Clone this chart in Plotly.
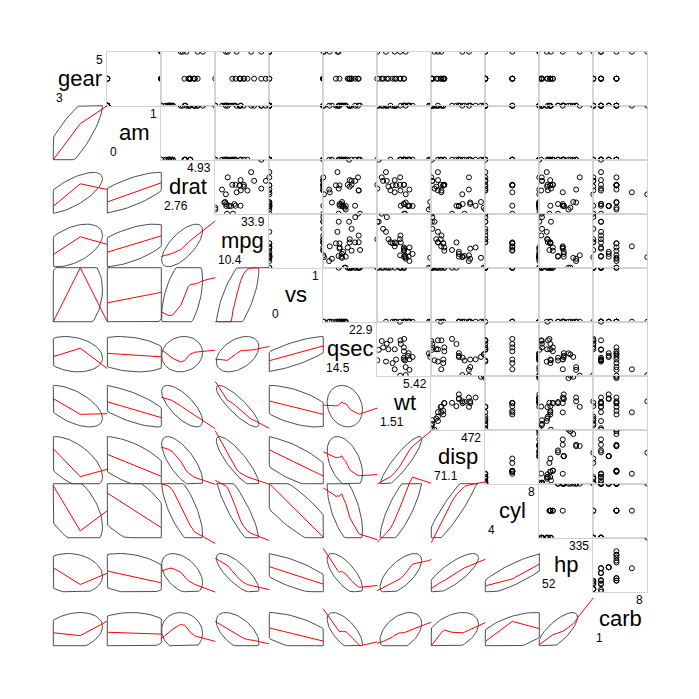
import numpy as np
import plotly.graph_objects as go

# mtcars data (32 cars)
mpg = [21.0, 21.0, 22.8, 21.4, 18.7, 18.1, 14.3, 24.4, 22.8, 19.2, 17.8, 16.4, 17.3, 15.2, 10.4, 10.4,
       14.7, 32.4, 30.4, 33.9, 21.5, 15.5, 15.2, 13.3, 19.2, 27.3, 26.0, 30.4, 15.8, 19.7, 15.0, 21.4]
cyl = [6, 6, 4, 6, 8, 6, 8, 4, 4, 6, 6, 8, 8, 8, 8, 8, 8, 4, 4, 4, 4, 8, 8, 8, 8, 4, 4, 4, 8, 6, 8, 4]
disp = [160, 160, 108, 258, 360, 225, 360, 146.7, 140.8, 167.6, 167.6, 275.8, 275.8, 275.8, 472, 460,
        440, 78.7, 75.7, 71.1, 120.1, 318, 304, 350, 400, 79, 120.3, 95.1, 351, 145, 301, 121]
hp = [110, 110, 93, 110, 175, 105, 245, 62, 95, 123, 123, 180, 180, 180, 205, 215,
      230, 66, 52, 65, 97, 150, 150, 245, 175, 66, 91, 113, 264, 175, 335, 109]
drat = [3.90, 3.90, 3.85, 3.08, 3.15, 2.76, 3.21, 3.69, 3.92, 3.92, 3.92, 3.07, 3.07, 3.07, 2.93, 3.00,
        3.23, 4.08, 4.93, 4.22, 3.70, 2.76, 3.15, 3.73, 3.08, 4.08, 4.43, 3.77, 4.22, 3.62, 3.54, 4.11]
wt = [2.620, 2.875, 2.320, 3.215, 3.440, 3.460, 3.570, 3.190, 3.150, 3.440, 3.440, 4.070, 3.730, 3.780,
      5.250, 5.424, 5.345, 2.200, 1.615, 1.835, 2.465, 3.520, 3.435, 3.840, 3.845, 1.935, 2.140, 1.513,
      3.170, 2.770, 3.570, 2.780]
qsec = [16.46, 17.02, 18.61, 19.44, 17.02, 20.22, 15.84, 20.00, 22.90, 18.30, 18.90, 17.40, 17.60, 18.00,
        17.98, 17.82, 17.42, 19.47, 18.52, 19.90, 20.01, 16.87, 17.30, 15.41, 17.05, 18.90, 16.70, 16.90,
        14.50, 15.50, 14.60, 18.60]
vs = [0, 0, 1, 1, 0, 1, 0, 1, 1, 1, 1, 0, 0, 0, 0, 0, 0, 1, 1, 1, 1, 0, 0, 0, 0, 1, 0, 1, 0, 0, 0, 1]
am = [1, 1, 1, 0, 0, 0, 0, 0, 0, 0, 0, 0, 0, 0, 0, 0, 0, 1, 1, 1, 0, 0, 0, 0, 0, 1, 1, 1, 1, 1, 1, 1]
gear = [4, 4, 4, 3, 3, 3, 3, 4, 4, 4, 4, 3, 3, 3, 3, 3, 3, 4, 4, 4, 3, 3, 3, 3, 3, 4, 5, 5, 5, 5, 5, 4]
carb = [4, 4, 1, 1, 2, 1, 4, 2, 2, 4, 4, 3, 3, 3, 4, 4, 4, 1, 2, 1, 1, 2, 2, 4, 2, 1, 2, 2, 4, 6, 8, 2]

var_names = ["gear", "am", "drat", "mpg", "vs", "qsec", "wt", "disp", "cyl", "hp", "carb"]
columns = {"gear": gear, "am": am, "drat": drat, "mpg": mpg, "vs": vs, "qsec": qsec,
           "wt": wt, "disp": disp, "cyl": cyl, "hp": hp, "carb": carb}

W = H = 699
LEFT, TOP, CELL = 53.3, 51.7, 54.0
PAD = 8.0
FONT = "Liberation Sans, Arial, sans-serif"


def r_lowess(x, y, f=2 / 3, nsteps=3):
    """Port of R's stats::lowess (clowess)."""
    x = np.asarray(x, float)
    y = np.asarray(y, float)
    o = np.argsort(x, kind="stable")
    x, y = x[o], y[o]
    n = len(x)
    delta = 0.01 * (x[-1] - x[0])
    ns = max(min(int(f * n + 1e-7), n), 2)
    X = np.concatenate([[0.0], x])
    Y = np.concatenate([[0.0], y])
    ys = np.zeros(n + 1)
    rw = np.ones(n + 1)

    def lowest(xs, nleft, nright, userw):
        rng = X[n] - X[1]
        h = max(xs - X[nleft], X[nright] - xs)
        h9, h1 = 0.999 * h, 0.001 * h
        w = np.zeros(n + 2)
        a = 0.0
        j = nleft
        while j <= n:
            w[j] = 0.0
            r = abs(X[j] - xs)
            if r <= h9:
                w[j] = 1.0 if r <= h1 else (1 - (r / h) ** 3) ** 3
                if userw:
                    w[j] *= rw[j]
                a += w[j]
            elif X[j] > xs:
                break
            j += 1
        nrt = j - 1
        if a <= 0:
            return None
        idx = range(nleft, nrt + 1)
        for j in idx:
            w[j] /= a
        if h > 0:
            a = sum(w[j] * X[j] for j in idx)
            b = xs - a
            c = sum(w[j] * (X[j] - a) ** 2 for j in idx)
            if np.sqrt(c) > 0.001 * rng:
                b /= c
                for j in idx:
                    w[j] *= (b * (X[j] - a) + 1.0)
        return sum(w[j] * Y[j] for j in idx)

    it = 1
    while it <= nsteps + 1:
        nleft, nright, last, i = 1, ns, 0, 1
        while True:
            if nright < n:
                d1 = X[i] - X[nleft]
                d2 = X[nright + 1] - X[i]
                if d1 > d2:
                    nleft += 1
                    nright += 1
                    continue
            v = lowest(X[i], nleft, nright, it > 1)
            ys[i] = Y[i] if v is None else v
            if last < i - 1:
                denom = X[i] - X[last]
                for j in range(last + 1, i):
                    alpha = (X[j] - X[last]) / denom
                    ys[j] = alpha * ys[i] + (1 - alpha) * ys[last]
            last = i
            cut = X[last] + delta
            i = last + 1
            while i <= n:
                if X[i] > cut:
                    break
                if X[i] == X[last]:
                    ys[i] = ys[last]
                    last = i
                i += 1
            i = max(last + 1, i - 1)
            if last >= n:
                break
        resid = Y[1:] - ys[1:]
        sc = np.abs(resid).mean()
        if it > nsteps:
            break
        srt = np.sort(np.abs(resid))
        m1 = n // 2
        if n % 2 == 0:
            cmad = 3 * (srt[m1] + srt[n - m1 - 1])
        else:
            cmad = 6 * srt[m1]
        if cmad < 1e-7 * sc:
            break
        c9, c1 = 0.999 * cmad, 0.001 * cmad
        for k in range(n):
            r = abs(resid[k])
            rw[k + 1] = 1.0 if r <= c1 else ((1 - (r / cmad) ** 2) ** 2 if r <= c9 else 0.0)
        it += 1
    return x, ys[1:]


def ellipse(xs, ys):
    n = len(xs)
    cov = np.cov(xs, ys)
    sx, sy = np.sqrt(cov[0, 0]), np.sqrt(cov[1, 1])
    r = cov[0, 1] / (sx * sy)
    dfn, dfd = 2, n - 1
    qf = dfd / 2 * (0.32 ** (-2 / dfd) - 1)  # F(2, dfd) 68% quantile
    rad = np.sqrt(dfn * qf)
    ang = np.linspace(0, 2 * np.pi, 75)
    ex = xs.mean() + rad * np.cos(ang) * sx
    ey = ys.mean() + rad * (np.cos(ang) * r * sy + np.sin(ang) * sy * np.sqrt(1 - r * r))
    ex = np.clip(ex, xs.min(), xs.max())
    ey = np.clip(ey, ys.min(), ys.max())
    return ex, ey


def label(v):
    return f"{v:.3g}"


fig = go.Figure()
layout = {}
annotations = []
k = 0
for i, rv in enumerate(var_names):
    for j, cv in enumerate(var_names):
        x0 = LEFT + j * CELL
        x1 = x0 + CELL
        y0 = TOP + i * CELL
        y1 = y0 + CELL
        if i == j:
            vals = np.asarray(columns[rv], float)
            annotations.append(dict(x=(x0 + x1) / 2 / W, y=1 - (y0 + y1) / 2 / H, xref="paper", yref="paper",
                                    text=rv, showarrow=False, xanchor="center", yanchor="middle", yshift=0.6,
                                    borderpad=0, font=dict(size=22, color="black", family=FONT)))
            annotations.append(dict(x=(x1 - 3.5) / W, y=1 - (y0 + 0.6) / H, xref="paper", yref="paper",
                                    text=label(vals.max()), showarrow=False, xanchor="right", yanchor="top",
                                    borderpad=0, font=dict(size=12, color="black", family=FONT)))
            annotations.append(dict(x=(x0 + 2.0) / W, y=1 - (y1 + 0.3) / H, xref="paper", yref="paper",
                                    text=label(vals.min()), showarrow=False, xanchor="left", yanchor="bottom",
                                    borderpad=0, font=dict(size=12, color="black", family=FONT)))
            continue
        k += 1
        xs = np.asarray(columns[cv], float)
        ys = np.asarray(columns[rv], float)
        xmin, xmax = xs.min(), xs.max()
        ymin, ymax = ys.min(), ys.max()
        xname = "x" if k == 1 else f"x{k}"
        yname = "y" if k == 1 else f"y{k}"
        xkey = "xaxis" if k == 1 else f"xaxis{k}"
        ykey = "yaxis" if k == 1 else f"yaxis{k}"
        common = dict(showgrid=False, zeroline=False, showticklabels=False, ticks="", fixedrange=True)
        if i < j:
            layout[xkey] = dict(domain=[x0 / W, x1 / W], range=[xmin, xmax], anchor=yname,
                                showline=True, mirror=True, linecolor="#d3d3d3", linewidth=1, **common)
            layout[ykey] = dict(domain=[1 - y1 / H, 1 - y0 / H], range=[ymin, ymax], anchor=xname,
                                showline=True, mirror=True, linecolor="#d3d3d3", linewidth=1, **common)
            fig.add_trace(go.Scatter(x=xs, y=ys, mode="markers", xaxis=xname, yaxis=yname,
                                     marker=dict(symbol="circle-open", size=5, color="black",
                                                 line=dict(width=1, color="black")),
                                     showlegend=False, hoverinfo="skip"))
        else:
            sx = (xmax - xmin) / CELL
            sy = (ymax - ymin) / CELL
            layout[xkey] = dict(domain=[(x0 - PAD) / W, (x1 + PAD) / W],
                                range=[xmin - PAD * sx, xmax + PAD * sx], anchor=yname,
                                showline=False, **common)
            layout[ykey] = dict(domain=[1 - (y1 + PAD) / H, 1 - (y0 - PAD) / H],
                                range=[ymin - PAD * sy, ymax + PAD * sy], anchor=xname,
                                showline=False, **common)
            ex, ey = ellipse(xs, ys)
            fig.add_trace(go.Scatter(x=ex, y=ey, mode="lines", xaxis=xname, yaxis=yname,
                                     line=dict(color="#4d4d4d", width=1),
                                     showlegend=False, hoverinfo="skip"))
            lx, ly = r_lowess(xs, ys)
            fig.add_trace(go.Scatter(x=lx, y=ly, mode="lines", xaxis=xname, yaxis=yname,
                                     line=dict(color="red", width=1),
                                     showlegend=False, hoverinfo="skip"))

fig.update_layout(width=W, height=H, margin=dict(l=0, r=0, t=0, b=0),
                  paper_bgcolor="white", plot_bgcolor="rgba(0,0,0,0)",
                  showlegend=False, annotations=annotations, **layout)
fig.write_html("out.html")
